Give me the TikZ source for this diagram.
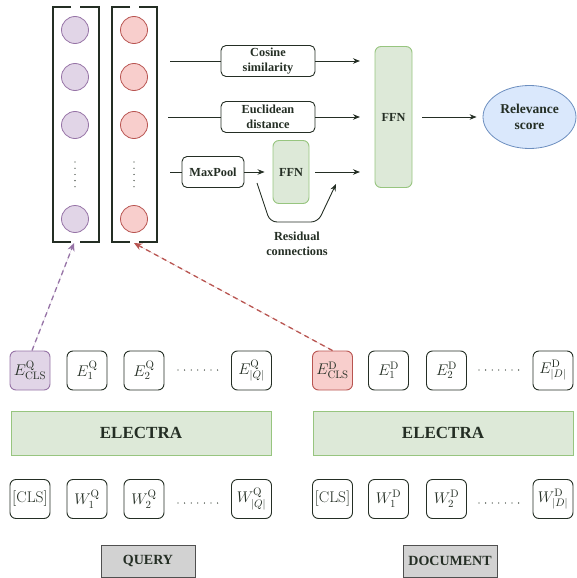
\RequirePackage{fix-cm}
\documentclass[tikz,border=0pt]{standalone}
\usepackage{fontspec}
\newfontfamily\tnr{Liberation Serif}
\usetikzlibrary{arrows.meta,shapes.geometric}
\definecolor{ink}{RGB}{36,46,36}
\definecolor{qfill}{HTML}{E1D5E7}
\definecolor{qline}{HTML}{9673A6}
\definecolor{dfill}{HTML}{F8CECC}
\definecolor{dline}{HTML}{B85450}
\definecolor{gfill}{HTML}{DDE9D8}
\definecolor{gline}{HTML}{97C57F}
\definecolor{bfill}{HTML}{DAE8FC}
\definecolor{bline}{HTML}{6C8EBF}
\definecolor{grfill}{RGB}{210,210,210}
\definecolor{grline}{RGB}{80,80,80}
\tikzset{
  lab/.style={font=\tnr\bfseries\fontsize{12.3}{15}\selectfont, align=center, text=ink},
  wbox/.style={lab, draw=ink, line width=0.9pt, rounded corners=5pt, fill=white, minimum width=94pt, minimum height=31pt, inner sep=0pt},
  gbox/.style={lab, draw=gline, line width=0.9pt, fill=gfill, rounded corners=6pt, inner sep=0pt},
  tok/.style={draw=ink, line width=0.9pt, rounded corners=6pt, minimum width=40pt, minimum height=39pt, inner sep=0pt, font=\fontsize{15.5}{18}\selectfont, text=ink},
  qtok/.style={tok, draw=qline, fill=qfill},
  dtok/.style={tok, draw=dline, fill=dfill},
  qcirc/.style={circle, draw=qline, fill=qfill, line width=0.8pt, minimum size=27pt, inner sep=0pt},
  dcirc/.style={circle, draw=dline, fill=dfill, line width=0.8pt, minimum size=27pt, inner sep=0pt},
  bracket/.style={draw=ink, line width=1.6pt},
  conn/.style={draw=ink, line width=0.9pt, -{Stealth[length=7pt,width=5.5pt]}},
  plain/.style={draw=ink, line width=0.9pt},
  elec/.style={draw=gline, fill=gfill, line width=0.9pt, minimum width=260pt, minimum height=44pt, inner sep=0pt, font=\tnr\bfseries\fontsize{17}{20}\selectfont, text=ink},
  grey/.style={draw=grline, fill=grfill, line width=0.9pt, minimum width=94pt, minimum height=32pt, inner sep=0pt, font=\tnr\bfseries\fontsize{14}{16}\selectfont, text=ink},
  hdots/.style={draw=ink, line width=1.3pt, line cap=round, dash pattern=on 0pt off 6.6pt},
  vdots/.style={draw=ink, line width=1.3pt, line cap=round, dash pattern=on 0pt off 6.2pt},
  dasharrow/.style={line width=1.3pt, dash pattern=on 5pt off 4pt, -{Stealth[length=8pt,width=7pt]}},
}
\begin{document}
\begin{tikzpicture}[x=1pt,y=-1pt]
\useasboundingbox (0,0) rectangle (576,578);
% columns
\draw[bracket] (71,7) -- (53,7) -- (53,242) -- (71,242);
\draw[bracket] (80,7) -- (99,7) -- (99,242) -- (80,242);
\draw[bracket] (130,7) -- (112,7) -- (112,242) -- (130,242);
\draw[bracket] (139,7) -- (157,7) -- (157,242) -- (139,242);
\foreach \y [count=\i] in {30,77,125,219} {
  \node[qcirc] (qc\i) at (75,\y) {};
  \node[dcirc] (dc\i) at (134,\y) {};
}
\draw[vdots] (75,162) -- (75,188);
\draw[vdots] (134,162) -- (134,188);
\coordinate (qin) at (74,243);
\coordinate (din) at (134,243);
% middle
\node[wbox] (cos) at (268,61) {Cosine\\similarity};
\node[wbox] (euc) at (268,117) {Euclidean\\distance};
\node[wbox, minimum width=62pt] (mp) at (213,172) {MaxPool};
\node[gbox, minimum width=36pt, minimum height=63pt] (sffn) at (291,172) {FFN};
\node[gbox, minimum width=37pt, minimum height=141pt] (bffn) at (393.5,117) {FFN};
\node[ellipse, draw=bline, fill=bfill, line width=0.8pt, minimum width=93pt, minimum height=63pt, inner sep=0pt, lab, font=\tnr\bfseries\fontsize{13.5}{16}\selectfont] (rel) at (529.5,117) {Relevance\\score};
\coordinate (s1) at (170,61);
\coordinate (s2) at (168,117);
\coordinate (s3) at (170,172);
\coordinate (t1) at (360,61);
\coordinate (t2) at (360,117);
\coordinate (t3) at (360,172);
\draw[plain] (s1) -- (cos.west);
\draw[conn] (cos.east) -- (t1);
\draw[plain] (s2) -- (euc.west);
\draw[conn] (euc.east) -- (t2);
\draw[plain] (s3) -- (mp.west);
\draw[conn] (mp.east) -- ([xshift=-8pt]sffn.west);
\draw[conn] ([xshift=6pt]sffn.east) -- (t3);
\coordinate (r0) at (257,183);
\coordinate (r1) at (336,184);
\draw[conn, rounded corners=7pt] (r0) -- (270,222) -- (318,222) -- (r1);
\node[lab] (res) at (297,244) {Residual\\connections};
\draw[conn] ([xshift=10pt]bffn.east) -- ([xshift=-6pt]rel.west);
% query side
\node[qtok] (eqc) at (30,370.5) {$E^{\mathrm{Q}}_{\mathrm{CLS}}$};
\node[tok] (eq1) at (87,370.5) {$E^{\mathrm{Q}}_{1}$};
\node[tok] (eq2) at (144,370.5) {$E^{\mathrm{Q}}_{2}$};
\node[tok] (eqn) at (251.5,370.5) {$E^{\mathrm{Q}}_{|Q|}$};
\draw[hdots] (178,370) -- (218,370);
\node[elec] (elq) at (141,433) {ELECTRA};
\node[tok] (wqc) at (30,499) {$[\mathrm{CLS}]$};
\node[tok] (wq1) at (87,499) {$W^{\mathrm{Q}}_{1}$};
\node[tok] (wq2) at (144,499) {$W^{\mathrm{Q}}_{2}$};
\node[tok] (wqn) at (251.5,499) {$W^{\mathrm{Q}}_{|Q|}$};
\draw[hdots] (178,503) -- (218,503);
\node[grey] (query) at (148,561) {QUERY};
% document side
\node[dtok] (edc) at (332.5,370.5) {$E^{\mathrm{D}}_{\mathrm{CLS}}$};
\node[tok] (ed1) at (388.5,370.5) {$E^{\mathrm{D}}_{1}$};
\node[tok] (ed2) at (446.5,370.5) {$E^{\mathrm{D}}_{2}$};
\node[tok] (edn) at (553,370.5) {$E^{\mathrm{D}}_{|D|}$};
\draw[hdots] (479,370) -- (519,370);
\node[elec] (eld) at (443,433) {ELECTRA};
\node[tok] (wdc) at (332.5,499) {$[\mathrm{CLS}]$};
\node[tok] (wd1) at (388.5,499) {$W^{\mathrm{D}}_{1}$};
\node[tok] (wd2) at (446.5,499) {$W^{\mathrm{D}}_{2}$};
\node[tok] (wdn) at (553,499) {$W^{\mathrm{D}}_{|D|}$};
\draw[hdots] (479,503) -- (519,503);
\node[grey] (doc) at (450,561) {DOCUMENT};
% dashed arrows
\draw[dasharrow, draw=qline, fill=qline] ([xshift=2pt]eqc.north) -- (qin);
\draw[dasharrow, draw=dline, fill=dline] ([xshift=0pt]edc.north) -- (din);
\end{tikzpicture}
\end{document}
